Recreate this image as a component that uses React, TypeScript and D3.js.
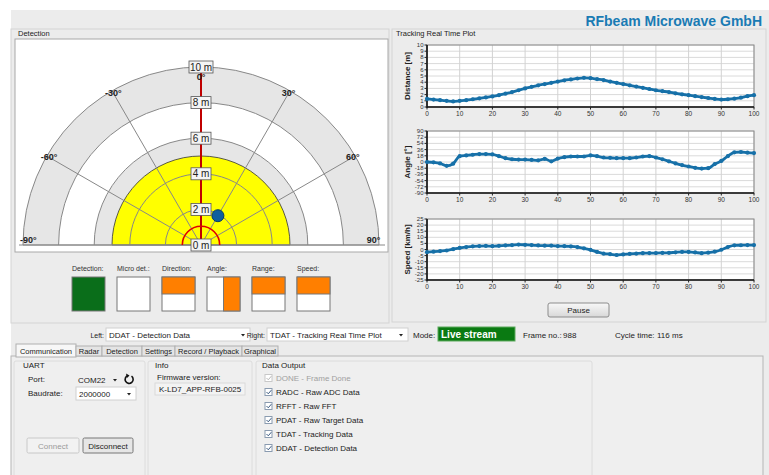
import * as d3 from 'd3'

// ---------- polar detection view ----------
const maxRange = 10
const rangeRings = [2, 4, 6, 8, 10]
const rangeLabels = ['0 m', '2 m', '4 m', '6 m', '8 m', '10 m']
const rangeLabelValues = [0, 2, 4, 6, 8, 10]
const angleSpokes = [-90, -60, -30, 0, 30, 60, 90]
const angleLabels = ['-90°', '-60°', '-30°', '0°', '30°', '60°', '90°']
const detectionZone = 5
const minRangeArc = 1.05
const pointerRange = 9.8
const targetRange = 1.9
const targetAngle = 30

// ---------- indicators ----------
const indicatorNames = ['Detection:', 'Micro det.:', 'Direction:', 'Angle:', 'Range:', 'Speed:']
const indicatorStates = ['green', 'empty', 'top', 'right', 'top', 'top']

// ---------- tracking real time plot ----------
const frames = [0, 2, 4, 6, 8, 10, 12, 14, 16, 18, 20, 22, 24, 26, 28, 30, 32, 34, 36, 38, 40, 42, 44, 46, 48, 50,
  52, 54, 56, 58, 60, 62, 64, 66, 68, 70, 72, 74, 76, 78, 80, 82, 84, 86, 88, 90, 92, 94, 96, 98, 100]
const distance = [1.3, 1.2, 1.1, 1.0, 0.9, 1.0, 1.1, 1.25, 1.4, 1.55, 1.7, 1.9, 2.15, 2.4, 2.7, 3.0, 3.25, 3.5, 3.7, 3.9,
  4.1, 4.3, 4.45, 4.6, 4.7, 4.65, 4.5, 4.35, 4.1, 3.9, 3.7, 3.5, 3.3, 3.1, 2.9, 2.7, 2.55, 2.4, 2.2, 2.05, 1.9, 1.75,
  1.6, 1.45, 1.3, 1.2, 1.25, 1.35, 1.5, 1.75, 1.9]
const angle = [0, -1, -4, -11, -5, 17, 19, 21, 23, 23, 22, 17, 11, 8, 7, 7, 6, 5, 9, 2, 10, 14, 16, 16, 16, 19, 17, 13,
  12, 11, 11, 11, 13, 16, 17, 13, 8, 2, -4, -9, -13, -17, -19, -18, -6, 3, 17, 28, 29, 27, 26]
const speed = [-2.2, -1.8, -1.3, -0.8, 0.3, 1.3, 2.0, 2.6, 2.8, 2.9, 2.7, 3.0, 3.3, 3.6, 4.0, 3.8, 3.6, 3.3, 3.1, 3.1,
  2.8, 2.7, 2.5, 2.0, 1.0, -0.3, -2.0, -3.3, -3.8, -4.5, -4.0, -3.6, -3.3, -3.0, -2.9, -2.9, -2.8, -2.7, -2.3, -2.0,
  -2.0, -2.4, -3.0, -2.6, -1.8, -0.2, 2.0, 3.4, 3.5, 3.6, 3.6]
const xTicks = [0, 10, 20, 30, 40, 50, 60, 70, 80, 90, 100]
const distanceTicks = [0, 1, 2, 3, 4, 5, 6, 7, 8, 9, 10]
const angleTicks = [-90, -72, -54, -36, -18, 0, 18, 36, 54, 72, 90]
const speedTicks = [-25, -20, -15, -10, -5, 0, 5, 10, 15, 20, 25]

// ---------- bottom controls ----------
const tabNames = ['Communication', 'Radar', 'Detection', 'Settings', 'Record / Playback', 'Graphical']
const dataOutputs = ['DONE - Frame Done', 'RADC - Raw ADC Data', 'RFFT - Raw FFT', 'PDAT - Raw Target Data',
  'TDAT - Tracking Data', 'DDAT - Detection Data']

const UI = 'Liberation Sans, Arial, sans-serif'
const BLUE = '#1670a8'

const Polar = () => {
  const cx = 201
  const cy = 245
  const r = d3.scaleLinear().domain([0, maxRange]).range([0, 178])
  const half = (rad: number) =>
    d3.arc()({ innerRadius: 0, outerRadius: r(rad), startAngle: -Math.PI / 2, endAngle: Math.PI / 2 } as any) as string
  const ring = (rad: number) => {
    const p = d3.path()
    p.arc(cx, cy, r(rad), Math.PI, 2 * Math.PI)
    return p.toString()
  }
  const pt = (rad: number, deg: number) => {
    const a = (deg * Math.PI) / 180
    return [cx + r(rad) * Math.sin(a), cy - r(rad) * Math.cos(a)]
  }
  const bands = [...rangeRings].reverse()
  const target = pt(targetRange, targetAngle)
  const pointer = pt(pointerRange, 0)
  return (
    <g>
      <rect x={15} y={39} width={373} height={213} fill="#fff" stroke="#a8a8a8" />
      <g transform={`translate(${cx},${cy})`}>
        {bands.map((d, i) => (
          <path key={d} d={half(d)} fill={i % 2 === 0 ? '#e6e6e6' : '#fff'} />
        ))}
        <path d={half(detectionZone)} fill="#ffff00" stroke="#333" strokeWidth={0.8} />
      </g>
      {rangeRings.map((d) => (
        <path key={d} d={ring(d)} fill="none" stroke="#888" strokeWidth={1} />
      ))}
      {angleSpokes.map((a) => {
        const [x2, y2] = pt(maxRange, a)
        return <line key={a} x1={cx} y1={cy} x2={x2} y2={y2} stroke="#888" strokeWidth={1} />
      })}
      <line x1={19} x2={385} y1={cy} y2={cy} stroke="#888" />
      <line x1={cx} y1={cy} x2={pointer[0]} y2={pointer[1]} stroke="#c00000" strokeWidth={2} />
      <path
        d={(() => {
          const p = d3.path()
          p.arc(cx, cy, r(minRangeArc), Math.PI, 2 * Math.PI)
          return p.toString()
        })()}
        fill="none"
        stroke="#e00000"
        strokeWidth={1.6}
      />
      <circle cx={target[0]} cy={target[1]} r={6} fill="#0e5f9e" stroke="#073a63" strokeWidth={1} />
      {rangeLabelValues.map((d, i) => {
        const y = cy - r(d)
        const w = rangeLabels[i].length > 3 ? 24 : 20
        return (
          <g key={d}>
            <rect x={cx - w / 2} y={y - 6} width={w} height={12} fill="#f4f4f4" stroke="#555" strokeWidth={0.8} />
            <text x={cx} y={y + 3.5} textAnchor="middle" fontFamily={UI} fontSize={10} fill="#222">
              {rangeLabels[i]}
            </text>
          </g>
        )
      })}
      {angleSpokes.map((a, i) => {
        if (a === 0) {
          return (
            <text key={a} x={cx} y={80} textAnchor="middle" fontFamily={UI} fontSize={9} fontWeight="bold" fill="#222">
              {angleLabels[i]}
            </text>
          )
        }
        const [x, y] = pt(Math.abs(a) === 90 ? 9.7 : 9.85, a)
        return (
          <text key={a} x={x} y={Math.abs(a) === 90 ? y - 2 : y + 3} textAnchor="middle" fontFamily={UI}
            fontSize={9} fontWeight="bold" fill="#222">
            {angleLabels[i]}
          </text>
        )
      })}
    </g>
  )
}

const Indicators = () => {
  const x0 = 72
  const step = 45
  const top = 277
  const w = 33
  const h = 34
  return (
    <g>
      {indicatorNames.map((n, i) => {
        const x = x0 + i * step
        const s = indicatorStates[i]
        return (
          <g key={n}>
            <text x={x} y={271} fontFamily={UI} fontSize={7} fill="#333">{n}</text>
            <rect x={x} y={top} width={w} height={h} fill={s === 'green' ? '#0a6e1a' : '#fff'} stroke="#777" />
            {s === 'top' && <rect x={x} y={top} width={w} height={h / 2} fill="#ff7f00" stroke="#777" />}
            {s === 'right' && <rect x={x + w / 2} y={top} width={w / 2} height={h} fill="#ff7f00" stroke="#777" />}
          </g>
        )
      })}
    </g>
  )
}

interface PlotProps {
  top: number
  bottom: number
  domain: [number, number]
  ticks: number[]
  label: string
  values: number[]
}

const TimePlot = ({ top, bottom, domain, ticks, label, values }: PlotProps) => {
  const left = 427
  const right = 754
  const x = d3.scaleLinear().domain([0, 100]).range([left, right])
  const y = d3.scaleLinear().domain(domain).range([bottom, top])
  const line = d3
    .line<number>()
    .x((_, i) => x(frames[i]))
    .y((d) => y(d))
    .curve(d3.curveMonotoneX)
  return (
    <g>
      <rect x={left} y={top} width={right - left} height={bottom - top} fill="#fff" />
      {ticks.map((t) => (
        <line key={'h' + t} x1={left} x2={right} y1={y(t)} y2={y(t)} stroke="#dadada" />
      ))}
      {xTicks.map((t) => (
        <line key={'v' + t} x1={x(t)} x2={x(t)} y1={top} y2={bottom} stroke="#d2d2d2" />
      ))}
      <rect x={left} y={top} width={right - left} height={bottom - top} fill="none" stroke="#8a8a8a" />
      <line x1={left} x2={left} y1={top} y2={bottom + 1} stroke="#111" strokeWidth={1.6} />
      <line x1={left} x2={right} y1={bottom} y2={bottom} stroke="#111" strokeWidth={1.6} />
      {ticks.map((t) => (
        <g key={'yt' + t}>
          <line x1={left - 2.5} x2={left} y1={y(t)} y2={y(t)} stroke="#222" />
          <text x={left - 3.5} y={y(t) + 2} textAnchor="end" fontFamily={UI} fontSize={6} fill="#333">{t}</text>
        </g>
      ))}
      {xTicks.map((t) => (
        <g key={'xt' + t}>
          <line x1={x(t)} x2={x(t)} y1={bottom} y2={bottom + 2.5} stroke="#222" />
          <text x={x(t)} y={bottom + 9} textAnchor="middle" fontFamily={UI} fontSize={6.5} fill="#333">{t}</text>
        </g>
      ))}
      <text transform={`translate(410,${(top + bottom) / 2}) rotate(-90)`} textAnchor="middle" fontFamily={UI}
        fontSize={8} fontWeight="bold" fill="#222">
        {label}
      </text>
      <path d={line(values) as string} fill="none" stroke={BLUE} strokeWidth={2.8} />
      {values.map((v, i) => (
        <circle key={i} cx={x(frames[i])} cy={y(v)} r={2.1} fill={BLUE} />
      ))}
    </g>
  )
}

const Combo = ({ x, y, w, text, white = true }: { x: number; y: number; w: number; text: string; white?: boolean }) => (
  <g>
    <rect x={x} y={y} width={w} height={13} fill={white ? '#fff' : 'none'} stroke={white ? '#d0d0d0' : 'none'} />
    <text x={x + 3} y={y + 9.5} fontFamily={UI} fontSize={8} fill="#222">{text}</text>
    <path d={`M${x + w - 9},${y + 6} h4 l-2,2.5 z`} fill="#222" />
  </g>
)

const Controls = () => {
  const tabEdges = [16, 76, 102, 142, 175, 242, 278]
  return (
    <g fontFamily={UI} fontSize={8} fill="#222">
      <text x={104} y={338} textAnchor="end" fontSize={7}>Left:</text>
      <Combo x={106} y={328} w={144} text="DDAT - Detection Data" />
      <text x={265} y={338} textAnchor="end" fontSize={7}>Right:</text>
      <Combo x={267} y={328} w={141} text="TDAT - Tracking Real Time Plot" />
      <text x={413} y={338}>Mode:</text>
      <rect x={438} y={327} width={77} height={14} fill="#0a7a12" stroke="#5caa5c" />
      <text x={441} y={338} fill="#fff" fontSize={10} fontWeight="bold">Live stream</text>
      <text x={523} y={338}>Frame no.:</text>
      <text x={563} y={338}>988</text>
      <text x={615} y={338}>Cycle time:</text>
      <text x={657} y={338}>116 ms</text>

      <rect x={11} y={356} width={752} height={125} fill="#efefef" stroke="#b5b5b5" />
      {tabNames.map((t, i) => {
        const sel = i === 0
        return (
          <g key={t}>
            <rect x={tabEdges[i]} y={sel ? 344 : 346} width={tabEdges[i + 1] - tabEdges[i]} height={sel ? 13 : 10}
              fill={sel ? '#f7f7f7' : '#e4e4e4'} stroke="#b0b0b0" />
            <text x={(tabEdges[i] + tabEdges[i + 1]) / 2} y={354} textAnchor="middle" fontSize={7.5}>{t}</text>
          </g>
        )
      })}

      <rect x={14} y={361} width={131} height={120} fill="none" stroke="#dcdcdc" rx={2} />
      <rect x={148} y={361} width={104} height={120} fill="none" stroke="#dcdcdc" rx={2} />
      <rect x={256} y={361} width={336} height={120} fill="none" stroke="#dcdcdc" rx={2} />

      <text x={23} y={368}>UART</text>
      <text x={28} y={382}>Port:</text>
      <Combo x={75} y={373} w={47} text="COM22" white={false} />
      <path d="M 131.5,376.2 A 4 4 0 1 1 128,375.6" fill="none" stroke="#111" strokeWidth={1.6} />
      <path d="M 126,373.4 l 3.5,2 l -2.5,2.5 z" fill="#111" />
      <text x={28} y={396}>Baudrate:</text>
      <Combo x={76} y={387} w={60} text="2000000" />
      <rect x={27} y={438} width={52} height={15} fill="#f2f2f2" stroke="#c8c8c8" rx={1.5} />
      <text x={53} y={448.5} textAnchor="middle" fill="#9a9a9a">Connect</text>
      <rect x={83} y={438} width={50} height={15} fill="#e6e6e6" stroke="#777" rx={1.5} />
      <text x={108} y={448.5} textAnchor="middle">Disconnect</text>

      <text x={155} y={368}>Info</text>
      <text x={157} y={380}>Firmware version:</text>
      <rect x={155} y={383} width={90} height={12} fill="#f3f3f3" stroke="#dadada" />
      <text x={159} y={392}>K-LD7_APP-RFB-0025</text>

      <text x={262} y={368}>Data Output</text>
      {dataOutputs.map((d, i) => {
        const y = 378 + i * 14
        const dim = i === 0
        return (
          <g key={d}>
            <rect x={265} y={y - 3.5} width={7} height={7} fill="#fff" stroke={dim ? '#c8c8c8' : '#8a9bb0'} />
            <path d={`M${266.5},${y} l1.8,1.8 l3,-3.6`} fill="none" stroke={dim ? '#b8b8b8' : '#3a5a80'}
              strokeWidth={1} />
            <text x={276} y={y + 3} fill={dim ? '#a0a0a0' : '#222'}>{d}</text>
          </g>
        )
      })}
    </g>
  )
}

export default function App() {
  return (
    <svg width={769} height={475} style={{ position: 'absolute', left: 0, top: 0 }}>
      <rect width={769} height={475} fill="#fff" />
      <rect x={11} y={10} width={758} height={465} fill="#ececec" />
      <text x={762} y={26} textAnchor="end" fontFamily="Liberation Sans, Arial, sans-serif" fontSize={14}
        fontWeight="bold" fill="#1a7bb4">
        RFbeam Microwave GmbH
      </text>

      <rect x={11} y={29} width={378} height={294} fill="none" stroke="#d4d4d4" />
      <text x={18} y={36} fontFamily={UI} fontSize={7.5} fill="#222">Detection</text>
      <Polar />
      <Indicators />

      <rect x={392} y={29} width={374} height={293} fill="none" stroke="#d4d4d4" />
      <text x={396} y={36} fontFamily={UI} fontSize={7.5} fill="#222">Tracking Real Time Plot</text>
      <TimePlot top={45} bottom={107} domain={[0, 10]} ticks={distanceTicks} label="Distance [m]" values={distance} />
      <TimePlot top={131} bottom={193} domain={[-90, 90]} ticks={angleTicks} label="Angle [°]" values={angle} />
      <TimePlot top={219} bottom={280} domain={[-25, 25]} ticks={speedTicks} label="Speed [km/h]" values={speed} />
      <defs>
        <linearGradient id="btn" x1="0" x2="0" y1="0" y2="1">
          <stop offset="0" stopColor="#f8f8f8" />
          <stop offset="1" stopColor="#d8d8d8" />
        </linearGradient>
      </defs>
      <rect x={548} y={303} width={61} height={14} rx={2} fill="url(#btn)" stroke="#8c8c8c" />
      <text x={578.5} y={313} textAnchor="middle" fontFamily={UI} fontSize={8} fill="#222">Pause</text>

      <Controls />
    </svg>
  )
}
